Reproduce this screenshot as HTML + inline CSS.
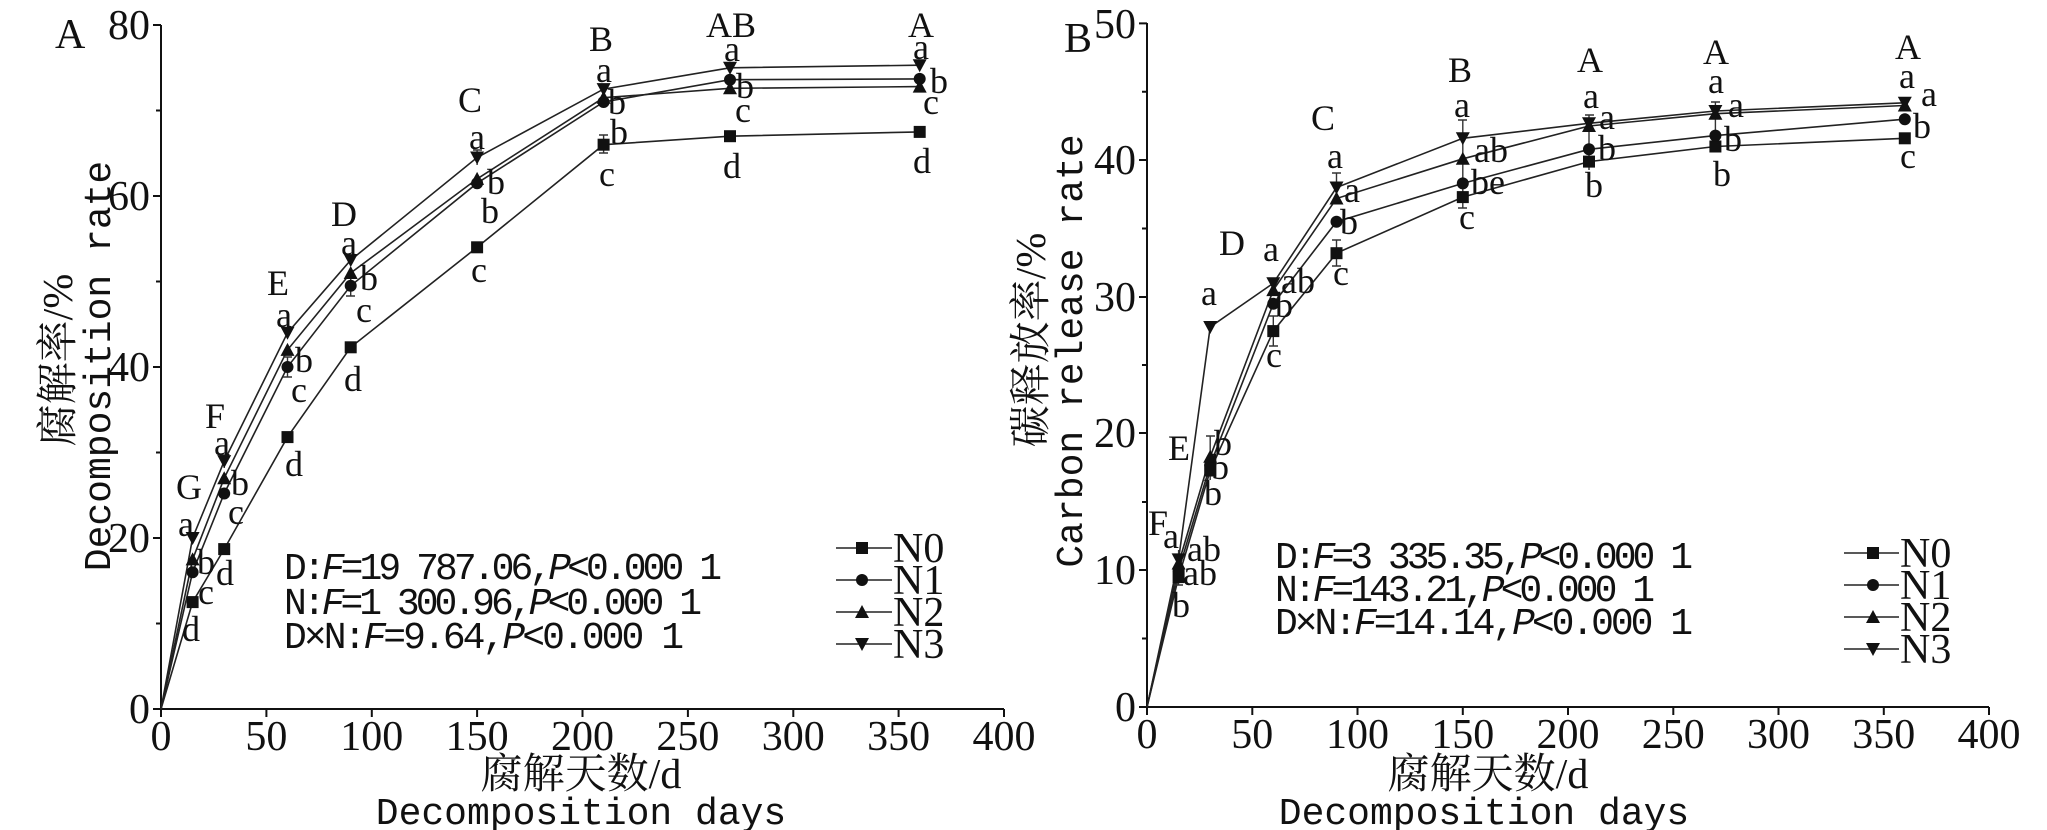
<!DOCTYPE html>
<html><head><meta charset="utf-8"><style>
html,body{margin:0;padding:0;background:#fff;}
svg{display:block;}
text{font-family:"Liberation Serif","Noto Serif CJK SC",serif;fill:#111;}
.t{font-size:42px;}
.l{font-size:36px;text-anchor:middle;dominant-baseline:central;}
.m{font-family:"Liberation Mono","Noto Sans CJK SC",monospace;font-size:38px;}
.ax{stroke:#111;stroke-width:2;fill:none;}
.ln{stroke:#222;stroke-width:1.6;fill:none;}
.eb{stroke:#333;stroke-width:1.4;fill:none;}
</style></head><body>
<svg width="2047" height="830" viewBox="0 0 2047 830" xmlns="http://www.w3.org/2000/svg">
<defs>
<rect id="sq" x="-6" y="-6" width="12" height="12" fill="#111"/>
<circle id="ci" r="6" fill="#111"/>
<path id="up" d="M0,-7 L7,6 L-7,6Z" fill="#111"/>
<path id="dn" d="M0,7 L7,-6 L-7,-6Z" fill="#111"/>
</defs>

<!-- ===== LEFT PANEL ===== -->
<path class="ax" d="M161,25 V709 H1004"/>
<path class="ax" d="M153,25H161M153,196H161M153,367H161M153,538H161M153,709H161M156,110.5H161M156,281.5H161M156,452.5H161M156,623.5H161"/>
<path class="ax" d="M161,709V717M266.4,709V717M371.8,709V717M477.1,709V717M582.5,709V717M687.9,709V717M793.3,709V717M898.6,709V717M1004,709V717"/>
<g class="t" text-anchor="end">
<text x="150" y="39">80</text><text x="150" y="210">60</text><text x="150" y="381">40</text><text x="150" y="552">20</text><text x="150" y="723">0</text>
</g>
<g class="t" text-anchor="middle">
<text x="161" y="750">0</text><text x="266.4" y="750">50</text><text x="371.8" y="750">100</text><text x="477.1" y="750">150</text><text x="582.5" y="750">200</text><text x="687.9" y="750">250</text><text x="793.3" y="750">300</text><text x="898.6" y="750">350</text><text x="1004" y="750">400</text>
</g>
<text class="t" x="581" y="788" text-anchor="middle" font-size="44">腐解天数/d</text>
<text class="m" x="581" y="824" text-anchor="middle" font-size="38">Decomposition days</text>
<text class="t" transform="translate(72,360) rotate(-90)" text-anchor="middle" font-size="44">腐解率/%</text>
<text class="m" transform="translate(110,366) rotate(-90)" text-anchor="middle" font-size="40">Decomposition rate</text>
<text class="t" x="55" y="48">A</text>

<polyline class="ln" points="161,709 192.6,602.1 224.2,549.1 287.5,437.1 350.7,347.3 477.1,247.3 603.6,144.7 730,136.2 919.7,131.9"/>
<polyline class="ln" points="161,709 192.6,572.2 224.2,493.5 287.5,367 350.7,285.8 477.1,183.2 603.6,102 730,79.7 919.7,78.9"/>
<polyline class="ln" points="161,709 192.6,559.4 224.2,478.2 287.5,349.9 350.7,273 477.1,178.9 603.6,97.7 730,88.3 919.7,86.6"/>
<polyline class="ln" points="161,709 192.6,538 224.2,461.1 287.5,332.8 350.7,260.1 477.1,157.5 603.6,89.1 730,67.8 919.7,65.2"/>
<path class="eb" d="M287.5,357V377M283,357h9M283,377h9M350.7,276V296M346,296h9M603.6,135V153M599,135h9M599,153h9M477.1,150V165M473,150h9M224.2,455V468M220,455h9"/>
<g>
<use href="#sq" x="192.6" y="602.1"/><use href="#sq" x="224.2" y="549.1"/><use href="#sq" x="287.5" y="437.1"/><use href="#sq" x="350.7" y="347.3"/><use href="#sq" x="477.1" y="247.3"/><use href="#sq" x="603.6" y="144.7"/><use href="#sq" x="730" y="136.2"/><use href="#sq" x="919.7" y="131.9"/>
<use href="#ci" x="192.6" y="572.2"/><use href="#ci" x="224.2" y="493.5"/><use href="#ci" x="287.5" y="367"/><use href="#ci" x="350.7" y="285.8"/><use href="#ci" x="477.1" y="183.2"/><use href="#ci" x="603.6" y="102"/><use href="#ci" x="730" y="79.7"/><use href="#ci" x="919.7" y="78.9"/>
<use href="#up" x="192.6" y="559.4"/><use href="#up" x="224.2" y="478.2"/><use href="#up" x="287.5" y="349.9"/><use href="#up" x="350.7" y="273"/><use href="#up" x="477.1" y="178.9"/><use href="#up" x="603.6" y="97.7"/><use href="#up" x="730" y="88.3"/><use href="#up" x="919.7" y="86.6"/>
<use href="#dn" x="192.6" y="538"/><use href="#dn" x="224.2" y="461.1"/><use href="#dn" x="287.5" y="332.8"/><use href="#dn" x="350.7" y="260.1"/><use href="#dn" x="477.1" y="157.5"/><use href="#dn" x="603.6" y="89.1"/><use href="#dn" x="730" y="67.8"/><use href="#dn" x="919.7" y="65.2"/>
</g>
<g class="l">
<text x="189" y="487">G</text><text x="186" y="524">a</text><text x="206" y="562">b</text><text x="206" y="592">c</text><text x="191" y="629">d</text>
<text x="215" y="416">F</text><text x="222" y="443">a</text><text x="240" y="483">b</text><text x="236" y="512">c</text><text x="225" y="573">d</text>
<text x="278" y="283">E</text><text x="284" y="315">a</text><text x="304" y="360">b</text><text x="299" y="390">c</text><text x="294" y="464">d</text>
<text x="344" y="214">D</text><text x="349" y="243">a</text><text x="369" y="278">b</text><text x="364" y="310">c</text><text x="353" y="379">d</text>
<text x="470" y="100">C</text><text x="477" y="137">a</text><text x="496" y="182">b</text><text x="490" y="211">b</text><text x="479" y="270">c</text>
<text x="601" y="39">B</text><text x="604" y="70">a</text><text x="617" y="102">b</text><text x="619" y="132">b</text><text x="607" y="174">c</text>
<text x="731" y="25">AB</text><text x="732" y="49">a</text><text x="745" y="86">b</text><text x="743" y="110">c</text><text x="732" y="166">d</text>
<text x="921" y="25">A</text><text x="921" y="47">a</text><text x="939" y="81">b</text><text x="931" y="102">c</text><text x="922" y="161">d</text>
</g>
<text class="m" x="284" y="579" textLength="438">D:<tspan font-style="italic">F</tspan>=19 787.06,<tspan font-style="italic">P</tspan>&lt;0.000 1</text>
<text class="m" x="284" y="614" textLength="418">N:<tspan font-style="italic">F</tspan>=1 300.96,<tspan font-style="italic">P</tspan>&lt;0.000 1</text>
<text class="m" x="284" y="648" textLength="400">D×N:<tspan font-style="italic">F</tspan>=9.64,<tspan font-style="italic">P</tspan>&lt;0.000 1</text>
<path class="ln" d="M836,548H892M836,580H892M836,612H892M836,644H892"/>
<use href="#sq" x="862" y="548"/><use href="#ci" x="862" y="580"/><use href="#up" x="862" y="612"/><use href="#dn" x="862" y="644"/>
<g class="t"><text x="893" y="562">N0</text><text x="893" y="594">N1</text><text x="893" y="626">N2</text><text x="893" y="658">N3</text></g>

<!-- ===== RIGHT PANEL ===== -->
<path class="ax" d="M1147,23 V707 H1989"/>
<path class="ax" d="M1139,23.4H1147M1139,160H1147M1139,297H1147M1139,433H1147M1139,570H1147M1139,707H1147M1142,91.7H1147M1142,228.5H1147M1142,365H1147M1142,502H1147M1142,638.5H1147"/>
<path class="ax" d="M1147,707V715M1252.3,707V715M1357.5,707V715M1462.8,707V715M1568,707V715M1673.3,707V715M1778.5,707V715M1883.8,707V715M1989,707V715"/>
<g class="t" text-anchor="end">
<text x="1136" y="38">50</text><text x="1136" y="174">40</text><text x="1136" y="311">30</text><text x="1136" y="447">20</text><text x="1136" y="584">10</text><text x="1136" y="721">0</text>
</g>
<g class="t" text-anchor="middle">
<text x="1147" y="748">0</text><text x="1252.3" y="748">50</text><text x="1357.5" y="748">100</text><text x="1462.8" y="748">150</text><text x="1568" y="748">200</text><text x="1673.3" y="748">250</text><text x="1778.5" y="748">300</text><text x="1883.8" y="748">350</text><text x="1989" y="748">400</text>
</g>
<text class="t" x="1488" y="788" text-anchor="middle" font-size="44">腐解天数/d</text>
<text class="m" x="1484" y="824" text-anchor="middle" font-size="38">Decomposition days</text>
<text class="t" transform="translate(1045,340) rotate(-90)" text-anchor="middle" font-size="44">碳释放率/%</text>
<text class="m" transform="translate(1082,351) rotate(-90)" text-anchor="middle" font-size="40">Carbon release rate</text>
<text class="t" x="1064" y="52">B</text>

<polyline class="ln" points="1147,707 1178.6,577.1 1210.2,470.5 1273.3,331.1 1336.5,253.2 1462.8,197.1 1589,161.6 1715.4,146.5 1904.8,138.3"/>
<polyline class="ln" points="1147,707 1178.6,570.3 1210.2,465 1273.3,303.7 1336.5,221.7 1462.8,183.4 1589,149.3 1715.4,135.6 1904.8,119.2"/>
<polyline class="ln" points="1147,707 1178.6,563.5 1210.2,456.8 1273.3,290.1 1336.5,198.5 1462.8,158.8 1589,126 1715.4,113.7 1904.8,105.5"/>
<polyline class="ln" points="1147,707 1178.6,559.4 1210.2,327 1273.3,283.2 1336.5,187.5 1462.8,138.3 1589,123.3 1715.4,111 1904.8,102.8"/>
<path class="eb" d="M1273.3,316V346M1269,346h9M1269,316h9M1336.5,240V266M1332,240h9M1332,266h9M1462.8,120V208M1458,120h9M1458,208h9M1336.5,173V200M1332,173h9M1589,115V170M1585,115h9M1210.2,436V480M1206,436h9M1178.6,550V585M1174,585h9M1715.4,102V150M1711,102h9"/>
<g>
<use href="#sq" x="1178.6" y="577.1"/><use href="#sq" x="1210.2" y="470.5"/><use href="#sq" x="1273.3" y="331.1"/><use href="#sq" x="1336.5" y="253.2"/><use href="#sq" x="1462.8" y="197.1"/><use href="#sq" x="1589" y="161.6"/><use href="#sq" x="1715.4" y="146.5"/><use href="#sq" x="1904.8" y="138.3"/>
<use href="#ci" x="1178.6" y="570.3"/><use href="#ci" x="1210.2" y="465"/><use href="#ci" x="1273.3" y="303.7"/><use href="#ci" x="1336.5" y="221.7"/><use href="#ci" x="1462.8" y="183.4"/><use href="#ci" x="1589" y="149.3"/><use href="#ci" x="1715.4" y="135.6"/><use href="#ci" x="1904.8" y="119.2"/>
<use href="#up" x="1178.6" y="563.5"/><use href="#up" x="1210.2" y="456.8"/><use href="#up" x="1273.3" y="290.1"/><use href="#up" x="1336.5" y="198.5"/><use href="#up" x="1462.8" y="158.8"/><use href="#up" x="1589" y="126"/><use href="#up" x="1715.4" y="113.7"/><use href="#up" x="1904.8" y="105.5"/>
<use href="#dn" x="1178.6" y="559.4"/><use href="#dn" x="1210.2" y="327"/><use href="#dn" x="1273.3" y="283.2"/><use href="#dn" x="1336.5" y="187.5"/><use href="#dn" x="1462.8" y="138.3"/><use href="#dn" x="1589" y="123.3"/><use href="#dn" x="1715.4" y="111"/><use href="#dn" x="1904.8" y="102.8"/>
</g>
<g class="l">
<text x="1158" y="523">F</text><text x="1171" y="536">a</text><text x="1204" y="549">ab</text><text x="1200" y="573">ab</text><text x="1181" y="605">b</text>
<text x="1179" y="448">E</text><text x="1223" y="443">b</text><text x="1220" y="467">b</text><text x="1213" y="493">b</text><text x="1209" y="293">a</text>
<text x="1232" y="243">D</text><text x="1271" y="249">a</text><text x="1298" y="281">ab</text><text x="1284" y="305">b</text><text x="1274" y="355">c</text>
<text x="1323" y="118">C</text><text x="1335" y="156">a</text><text x="1352" y="190">a</text><text x="1349" y="222">b</text><text x="1341" y="273">c</text>
<text x="1460" y="70">B</text><text x="1462" y="105">a</text><text x="1491" y="150">ab</text><text x="1488" y="182">be</text><text x="1467" y="217">c</text>
<text x="1590" y="60">A</text><text x="1591" y="96">a</text><text x="1607" y="117">a</text><text x="1607" y="148">b</text><text x="1594" y="185">b</text>
<text x="1716" y="52">A</text><text x="1716" y="81">a</text><text x="1736" y="105">a</text><text x="1733" y="139">b</text><text x="1722" y="174">b</text>
<text x="1908" y="47">A</text><text x="1907" y="76">a</text><text x="1929" y="94">a</text><text x="1922" y="126">b</text><text x="1908" y="156">c</text>
</g>
<text class="m" x="1275" y="568" textLength="418">D:<tspan font-style="italic">F</tspan>=3 335.35,<tspan font-style="italic">P</tspan>&lt;0.000 1</text>
<text class="m" x="1275" y="601" textLength="380">N:<tspan font-style="italic">F</tspan>=143.21,<tspan font-style="italic">P</tspan>&lt;0.000 1</text>
<text class="m" x="1275" y="634" textLength="418">D×N:<tspan font-style="italic">F</tspan>=14.14,<tspan font-style="italic">P</tspan>&lt;0.000 1</text>
<path class="ln" d="M1844,553H1899M1844,585H1899M1844,617H1899M1844,649H1899"/>
<use href="#sq" x="1873" y="553"/><use href="#ci" x="1873" y="585"/><use href="#up" x="1873" y="617"/><use href="#dn" x="1873" y="649"/>
<g class="t"><text x="1900" y="567">N0</text><text x="1900" y="599">N1</text><text x="1900" y="631">N2</text><text x="1900" y="663">N3</text></g>
</svg>
</body></html>
